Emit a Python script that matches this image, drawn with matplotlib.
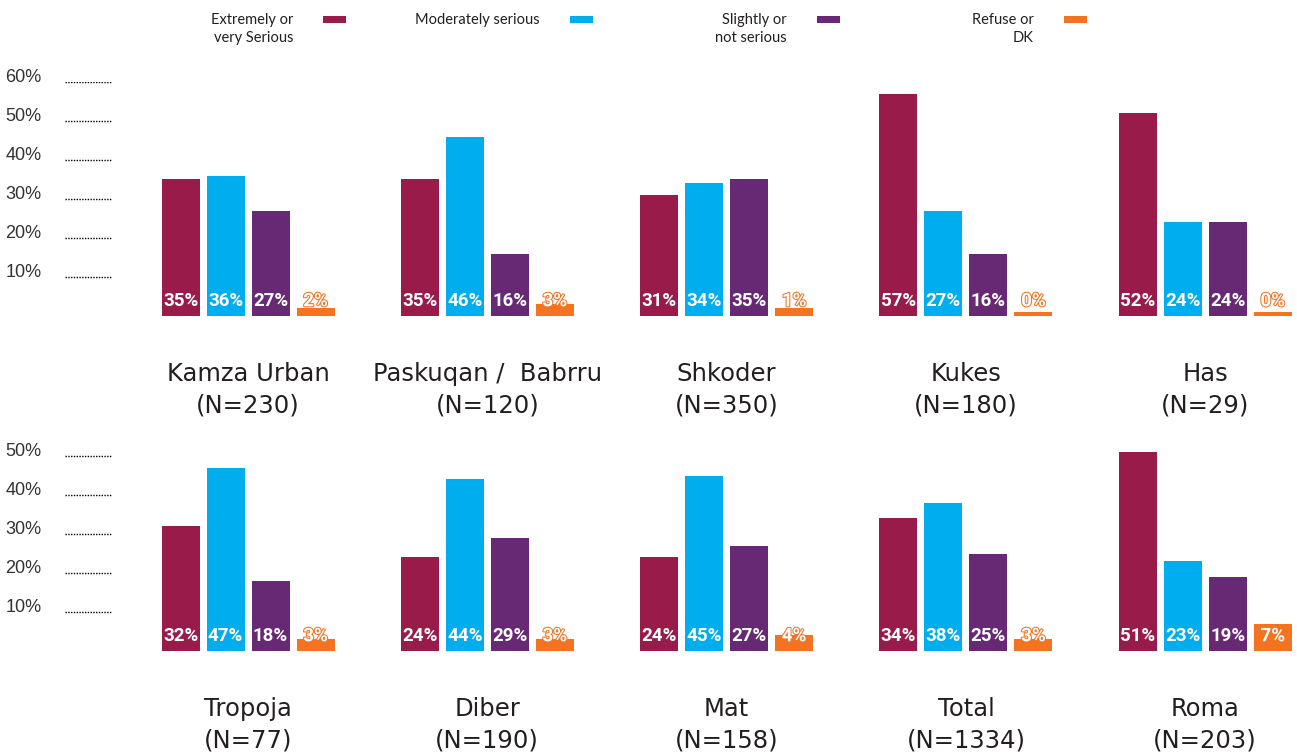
import matplotlib
matplotlib.use("Agg")
import matplotlib.pyplot as plt
import matplotlib.patheffects as pe
from matplotlib.patches import Rectangle
import numpy as np

# ---------------- data ----------------
series_names = ["Extremely or\nvery Serious", "Moderately serious",
                "Slightly or\nnot serious", "Refuse or\nDK"]
colors = ["#981B49", "#00AEEF", "#672874", "#F47321"]

top_groups = ["Kamza Urban\n(N=230)", "Paskuqan /  Babrru\n(N=120)", "Shkoder\n(N=350)",
              "Kukes\n(N=180)", "Has\n(N=29)"]
top_extreme = [35, 35, 31, 57, 52]
top_moderate = [36, 46, 34, 27, 24]
top_slight = [27, 16, 35, 16, 24]
top_refuse = [2, 3, 1, 0, 0]
top_refuse_bar = [2, 3, 2, 1, 1]   # bar heights as drawn in the picture

bot_groups = ["Tropoja\n(N=77)", "Diber\n(N=190)", "Mat\n(N=158)",
              "Total\n(N=1334)", "Roma\n(N=203)"]
bot_extreme = [32, 24, 24, 34, 51]
bot_moderate = [47, 44, 45, 38, 23]
bot_slight = [18, 29, 27, 25, 19]
bot_refuse = [3, 3, 4, 3, 7]
bot_refuse_bar = [3, 3, 4, 3, 7]

top_ticks = [10, 20, 30, 40, 50, 60]
bot_ticks = [10, 20, 30, 40, 50]

# ---------------- layout ----------------
W, H = 1297, 753
fig = plt.figure(figsize=(W / 100, H / 100), dpi=100)

left_px = 50
group_px = 239.3
center0_px = 248
xlim = ((left_px - center0_px) / group_px, (W - center0_px) / group_px)
bar_step = 45 / group_px
bar_w = 38 / group_px
ppx = 39.0  # pixels per 10%


def make_axes(base_px):
    bottom = (H - base_px) / H
    height = 6 * ppx / H
    ax = fig.add_axes([left_px / W, bottom, (W - left_px) / W, height])
    ax.set_xlim(*xlim)
    ax.set_ylim(0, 60)
    ax.patch.set_alpha(0)
    for s in ax.spines.values():
        s.set_visible(False)
    return ax


def draw_panel(ax, groups, series, labels_vals, ticks):
    x = np.arange(len(groups))
    for j, (vals, lab) in enumerate(zip(series, labels_vals)):
        xs = x + (j - 1.5) * bar_step
        ax.bar(xs, vals, width=bar_w, color=colors[j], linewidth=0, clip_on=False)
        for xi, lv in zip(xs, lab):
            if j < 3:
                ax.annotate(f"{lv}%", xy=(xi, 0), xytext=(0, 7), textcoords="offset points",
                            ha="center", va="baseline", color="white",
                            fontsize=13.5, fontweight="bold", family="Roboto")
            else:
                ax.annotate(f"{lv}%", xy=(xi, 0), xytext=(0, 7), textcoords="offset points",
                            ha="center", va="baseline", color="white",
                            fontsize=13.5, fontweight="bold", family="Roboto",
                            path_effects=[pe.Stroke(linewidth=1.5, foreground=colors[3]),
                                          pe.Normal()])
    ax.set_xticks(x)
    ax.set_xticklabels(groups, fontsize=17.5, color="#231F20", family="DejaVu Sans",
                       linespacing=1.38)
    ax.tick_params(axis="x", length=0, pad=33)
    ax.set_yticks(ticks)
    ax.set_yticklabels([f"{t}%" for t in ticks], fontsize=13, color="#333333",
                       family="Liberation Sans")
    ax.tick_params(axis="y", length=0, pad=6)
    for lbl in ax.get_yticklabels():
        lbl.set_va("baseline")
    for t in ticks:
        ax.axhline(t, xmin=(65 - left_px) / (W - left_px), xmax=(112 - left_px) / (W - left_px),
                   color="black", linestyle=(0, (1, 1)), linewidth=1.0)


ax_top = make_axes(316)
draw_panel(ax_top, top_groups, [top_extreme, top_moderate, top_slight, top_refuse_bar],
           [top_extreme, top_moderate, top_slight, top_refuse], top_ticks)

ax_bot = make_axes(651)
draw_panel(ax_bot, bot_groups, [bot_extreme, bot_moderate, bot_slight, bot_refuse_bar],
           [bot_extreme, bot_moderate, bot_slight, bot_refuse], bot_ticks)

# ---------------- legend ----------------
for i, (name, c) in enumerate(zip(series_names, colors)):
    tx = 293 + i * 247
    fig.text(tx / W, 1 - 13 / H, name, ha="right", va="top", multialignment="right",
             fontsize=10.5, family="Lato", color="#231F20", linespacing=1.4)
    fig.patches.append(Rectangle(((tx + 30) / W, 1 - 23 / H), 23 / W, 7 / H,
                                 transform=fig.transFigure, facecolor=c, edgecolor="none"))

fig.savefig("out.png", dpi=100)
